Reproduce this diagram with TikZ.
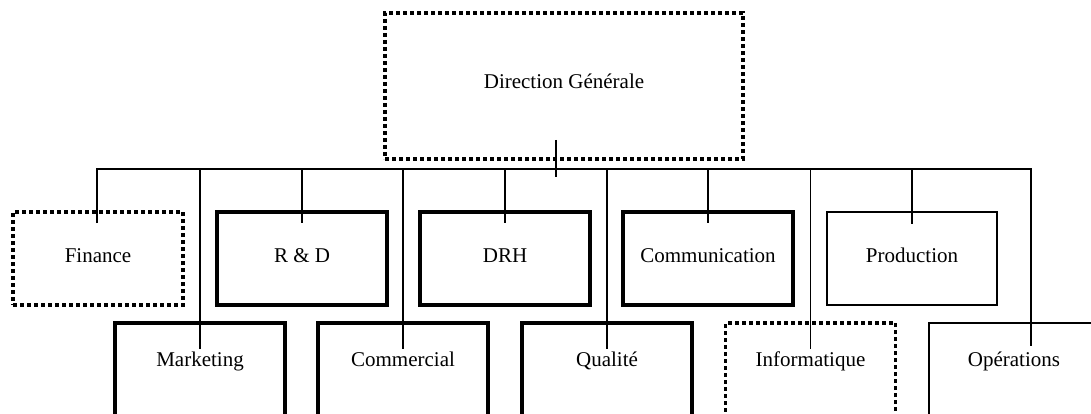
\documentclass[tikz,border=0pt]{standalone}
\usepackage{fontspec}
\setmainfont{Liberation Serif}
\begin{document}
\begin{tikzpicture}[x=1pt,y=-1pt,
  box/.style={minimum width=170pt,minimum height=93pt,inner sep=0pt,
    font=\fontsize{21}{25}\selectfont},
  toprow/.style={box,text height=14pt,text depth=7pt},
  botrow/.style={box,text height=14pt,text depth=19.6pt},
  heavy/.style={draw,line width=3.3pt},
  dots/.style={draw,line width=3.6pt,dash pattern=on 3.6pt off 3.4pt},
  thinbox/.style={draw,line width=1.2pt},
  link/.style={draw,line width=1.2pt}]
\useasboundingbox (0,0) rectangle (1091,414);
\clip (0,0) rectangle (1091,414);
\fill[white] (0,0) rectangle (1091,414);
% top
\node[dots,box,minimum width=358pt,minimum height=146pt,text height=14pt,text depth=8pt] (dg) at (564,86) {Direction Générale};
% first row
\node[dots,toprow] (fin) at (98,258.5) {Finance};
\node[heavy,toprow] (rd) at (302,258.5) {R \& D};
\node[heavy,toprow] (drh) at (505,258.5) {DRH};
\node[heavy,toprow] (com) at (708,258.5) {Communication};
\node[thinbox,toprow] (prod) at (912,258.5) {Production};
% second row
\node[heavy,botrow] (mkt) at (200,369.5) {Marketing};
\node[heavy,botrow] (cml) at (403,369.5) {Commercial};
\node[heavy,botrow] (qual) at (607,369.5) {Qualité};
\node[dots,botrow] (info) at (810.5,369.5) {Informatique};
\node[thinbox,botrow] (ops) at (1014,369.5) {Opérations};
% connectors
\coordinate (busL) at (97,169);
\coordinate (busR) at (1031,169);
\draw[link,line width=1.5pt] ([xshift=-8pt,yshift=21pt]dg.south) -- ([xshift=-8pt,yshift=-16pt]dg.south);
\draw[link] ([yshift=-13pt]fin.north -| busL) -- (busL) -- (busR) -- ([yshift=-24pt]ops.north -| busR);
\foreach \n in {rd,drh,com,prod}
  \draw[link] (\n.north |- busL) -- ([yshift=-13pt]\n.north);
\foreach \n in {mkt,cml,qual,info}
  \draw[link] (\n.north |- busL) -- ([yshift=-28pt]\n.north);
\end{tikzpicture}
\end{document}
